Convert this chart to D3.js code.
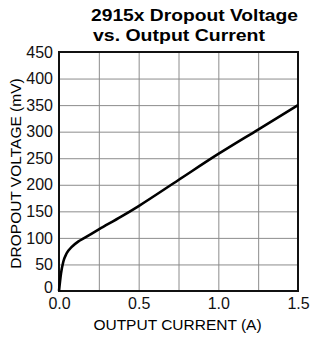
<!DOCTYPE html>
<html>
<head>
<meta charset="utf-8">
<script src="https://cdn.jsdelivr.net/npm/d3@7"></script>
<style>
  body { margin: 0; background: #fff; }
  svg { display: block; font-family: "Liberation Sans", Arial, sans-serif; }
  .grid line { stroke: #8c8c8c; stroke-width: 1; }
  .grid path { display: none; }
  .axis path, .axis line { display: none; }
  .axis text { font-size: 16px; fill: #111; }
</style>
</head>
<body>
<div id="viz"></div>
<script>
// data
var current = [0, 0.0125, 0.027, 0.048, 0.08, 0.12, 0.16, 0.25, 0.39, 0.50, 0.75, 1.00, 1.25, 1.50];
var dropout = [0, 33, 55, 71, 83, 93, 100, 116, 140, 160, 209, 258, 304, 350];
var xTicks = [0, 0.5, 1.0, 1.5];
var xGrid  = [0, 0.25, 0.5, 0.75, 1.0, 1.25, 1.5];
var yTicks = [0, 50, 100, 150, 200, 250, 300, 350, 400, 450];
var titleLines = ["2915x Dropout Voltage", "vs. Output Current"];

var width = 311, height = 337,
    margin = {top: 52, right: 13, bottom: 46, left: 59},
    w = width - margin.left - margin.right,
    h = height - margin.top - margin.bottom;

var svg = d3.select("#viz").append("svg")
    .attr("width", width)
    .attr("height", height);

var x = d3.scaleLinear().domain([0, 1.5]).range([0, w]);
var y = d3.scaleLinear().domain([0, 450]).range([h, 0]);

var g = svg.append("g")
    .attr("transform", "translate(" + margin.left + "," + margin.top + ")");

// grid
g.append("g").attr("class", "grid")
    .call(d3.axisBottom(x).tickValues(xGrid).tickSize(h).tickFormat(""));
g.append("g").attr("class", "grid")
    .call(d3.axisLeft(y).tickValues(yTicks).tickSize(-w).tickFormat(""));

// frame
g.append("rect")
    .attr("width", w).attr("height", h)
    .style("fill", "none").style("stroke", "#111").style("stroke-width", 2);

// axes labels
g.append("g").attr("class", "axis")
    .attr("transform", "translate(0," + h + ")")
    .call(d3.axisBottom(x).tickValues(xTicks).tickFormat(d3.format(".1f")).tickSize(0).tickPadding(7));
var yAxis = g.append("g").attr("class", "axis")
    .call(d3.axisLeft(y).tickValues(yTicks).tickSize(0).tickPadding(6));
// the zero label sits a little higher, clear of the 0.0 below it
yAxis.selectAll(".tick text").filter(function(d) { return d === 0; })
    .attr("dy", "0.1em");

// curve
var pts = current.map(function(c, i) { return [c, dropout[i]]; });
g.append("path")
    .datum(pts)
    .attr("d", d3.line()
        .x(function(d) { return x(d[0]); })
        .y(function(d) { return y(d[1]); })
        .curve(d3.curveMonotoneX))
    .style("fill", "none")
    .style("stroke", "#000")
    .style("stroke-width", 2.6)
    .style("stroke-linejoin", "round");

// titles
svg.append("text")
    .attr("x", 91).attr("y", 21)
    .attr("textLength", 207).attr("lengthAdjust", "spacingAndGlyphs")
    .style("font-size", "17px").style("font-weight", "bold")
    .text(titleLines[0]);
svg.append("text")
    .attr("x", 93).attr("y", 41)
    .attr("textLength", 172).attr("lengthAdjust", "spacingAndGlyphs")
    .style("font-size", "17px").style("font-weight", "bold")
    .text(titleLines[1]);

svg.append("text")
    .attr("x", margin.left + w / 2 - 1).attr("y", 330)
    .attr("text-anchor", "middle")
    .style("font-size", "15.5px")
    .text("OUTPUT CURRENT (A)");

svg.append("text")
    .attr("transform", "translate(21," + (margin.top + h / 2 + 2) + ") rotate(-90)")
    .attr("text-anchor", "middle")
    .style("font-size", "15.5px")
    .text("DROPOUT VOLTAGE (mV)");
</script>
</body>
</html>
